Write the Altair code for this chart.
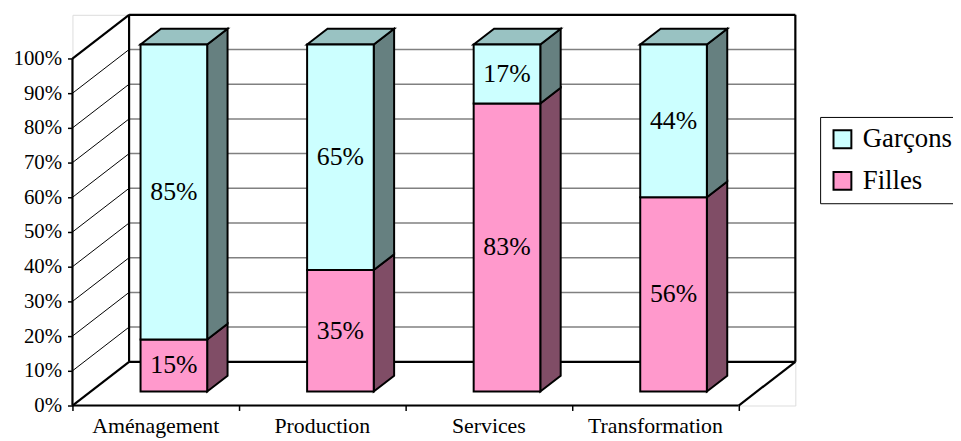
import altair as alt
import pandas as pd

# ---- data ----
categories = ["Aménagement", "Production", "Services", "Transformation"]
filles = [15, 35, 83, 56]
garcons = [85, 65, 17, 44]
series_names = ["Garçons", "Filles"]
y_ticks = [0, 10, 20, 30, 40, 50, 60, 70, 80, 90, 100]

# ---- 3D geometry (styling constants) ----
N = len(categories)
DX = 0.34      # depth offset in category units
DY = 12.6      # depth offset in percent units
Z0, Z1 = 0.32, 0.68   # bar front / back depth
HALF = 0.2     # half bar width (gap width 150%)
CAT_PX = 168
PCT_PX = 3.5
W = round(CAT_PX * (N + DX))
H = round(PCT_PX * (100 + DY))
FONT = "Liberation Serif, Times New Roman, serif"

front_col = {"Garçons": "#CCFFFF", "Filles": "#FF99CC"}
side_col = {"Garçons": "#668080", "Filles": "#804D66"}
top_col = {"Garçons": "#99C2C2", "Filles": "#CC7AA3"}

fronts, sides, tops, labels, cats = [], [], [], [], []
for i, cat in enumerate(categories):
    segs = [("Filles", 0, filles[i]), ("Garçons", filles[i], filles[i] + garcons[i])]
    xl = i + 0.5 - HALF
    xr = i + 0.5 + HALF
    for s, lo, hi in segs:
        fid = f"{cat}-{s}"
        fronts.append(dict(series=s, x=xl + Z0 * DX, x2=xr + Z0 * DX,
                           y=lo + Z0 * DY, y2=hi + Z0 * DY))
        for z in (Z0, Z1):
            sides.append(dict(face=fid, color=side_col[s], x=xr + z * DX,
                              y=lo + z * DY, y2=hi + z * DY))
        labels.append(dict(x=i + 0.5 + Z0 * DX, y=(lo + hi) / 2 + Z0 * DY,
                           text=f"{hi - lo}%"))
    ts, tlo, thi = segs[-1]
    for z in (Z0, Z1):
        tops.append(dict(face=cat, color=top_col[ts], y=thi + z * DY,
                         x=xl + z * DX, x2=xr + z * DX))
    cats.append(dict(x=i + 0.5, text=cat))

# frame lines
thick = [
    (0, 0, 0, 100), (0, 100, DX, 100 + DY), (0, 0, DX, DY),
    (DX, DY, DX, 100 + DY), (DX, 100 + DY, N + DX, 100 + DY),
    (N + DX, DY, N + DX, 100 + DY), (DX, DY, N + DX, DY),
    (0, 0, N, 0), (N, 0, N + DX, DY),
]
thick_df = pd.DataFrame(thick, columns=["x", "y", "x2", "y2"])
inner = [v for v in y_ticks if 0 < v < 100]
diag_df = pd.DataFrame([(0, v, DX, v + DY) for v in inner], columns=["x", "y", "x2", "y2"])
grid_df = pd.DataFrame([(DX, v + DY, N + DX, v + DY) for v in inner], columns=["x", "y", "x2", "y2"])

xscale = alt.Scale(domain=[0, N + DX], nice=False, zero=False)
yscale = alt.Scale(domain=[0, 100 + DY], nice=False, zero=False)
xaxis = alt.Axis(values=list(range(N + 1)), labels=False, ticks=True, tickSize=5,
                 tickColor="black", tickWidth=1.5, domain=False, grid=False, title=None)
yaxis = alt.Axis(values=y_ticks, labelExpr="datum.value + '%'", ticks=True, tickSize=5,
                 tickColor="black", tickWidth=1.5, domain=False, grid=False, title=None,
                 labelFont=FONT, labelFontSize=21, labelColor="black", labelPadding=6)


def X(f="x"):
    return alt.X(f"{f}:Q", scale=xscale, axis=xaxis, stack=None)


def Y(f="y"):
    return alt.Y(f"{f}:Q", scale=yscale, axis=yaxis, stack=None)


grid = alt.Chart(grid_df).mark_rule(color="#808080", strokeWidth=1.5).encode(
    x=X(), y=Y(), x2="x2:Q", y2="y2:Q")
diag = alt.Chart(diag_df).mark_rule(color="black", strokeWidth=1).encode(
    x=X(), y=Y(), x2="x2:Q", y2="y2:Q")
frame = alt.Chart(thick_df).mark_rule(color="black", strokeWidth=2.2).encode(
    x=X(), y=Y(), x2="x2:Q", y2="y2:Q")

side = alt.Chart(pd.DataFrame(sides)).mark_area(
    orient="vertical", stroke="black", strokeWidth=2, strokeJoin="miter", opacity=1
).encode(x=X(), y=Y(), y2="y2:Q", detail="face:N",
         fill=alt.Fill("color:N", scale=None))

top = alt.Chart(pd.DataFrame(tops)).mark_area(
    orient="horizontal", stroke="black", strokeWidth=2, strokeJoin="miter", opacity=1
).encode(y=Y(), x=X(), x2="x2:Q", detail="face:N",
         fill=alt.Fill("color:N", scale=None))

front = alt.Chart(pd.DataFrame(fronts)).mark_rect(
    stroke="black", strokeWidth=2, opacity=1
).encode(
    x=X(), x2="x2:Q", y=Y(), y2="y2:Q",
    color=alt.Color("series:N",
                    scale=alt.Scale(domain=series_names,
                                    range=[front_col[s] for s in series_names]),
                    legend=alt.Legend(
                        title=None, orient="none", legendX=754, legendY=103,
                        direction="vertical", symbolType="square", symbolSize=324,
                        symbolStrokeColor="black", symbolStrokeWidth=2,
                        symbolOpacity=1, labelFont=FONT, labelFontSize=27,
                        labelColor="black", labelOffset=7, padding=9,
                        rowPadding=14, strokeColor="black", fillColor="white",
                        labelLimit=300)),
)

text = alt.Chart(pd.DataFrame(labels)).mark_text(
    font=FONT, fontSize=26, color="black", align="center", baseline="middle"
).encode(x=X(), y=Y(), text="text:N")

cat_text = alt.Chart(pd.DataFrame(cats)).mark_text(
    font=FONT, fontSize=22, color="black", align="center", baseline="alphabetic"
).encode(x=X(), y=alt.value(H + 28), text="text:N")

chart = alt.layer(grid, diag, frame, side, top, front, text, cat_text).properties(
    width=W, height=H,
    padding={"left": 65, "top": 5, "right": 159, "bottom": 45},
    autosize=alt.AutoSizeParams(type="none"),
).configure_view(stroke=None).configure(background="white")

chart.save("out.html", embed_options={"renderer": "svg", "actions": False})
